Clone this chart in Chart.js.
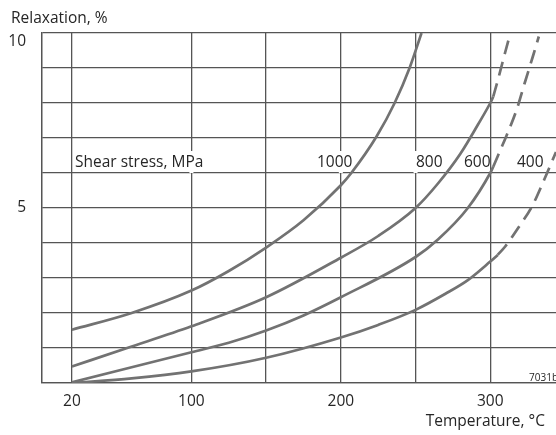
<!DOCTYPE html>
<html>
<head>
<meta charset="utf-8">
<script src="https://cdn.jsdelivr.net/npm/chart.js@4.4.1/dist/chart.umd.min.js"></script>
<style>
  body { margin: 0; background: #fff; }
</style>
</head>
<body>
<canvas id="myChart" width="556" height="435"></canvas>
<script>
// ______________________ data ______________________
// temperature (°C) and relaxation (%) for each shear stress, solid part
let temp1000 = [20, 60, 100, 125, 150, 175, 200, 207, 224, 236, 246, 254];
let relax1000 = [1.52, 2.0, 2.64, 3.2, 3.87, 4.65, 5.65, 6.0, 7.05, 8.0, 9.0, 10.0];

let temp800 = [20, 57, 100, 150, 200, 225, 250, 265, 280, 292, 300, 302];
let relax800 = [0.47, 1.0, 1.62, 2.45, 3.58, 4.2, 5.0, 5.7, 6.55, 7.4, 8.0, 8.18];

let temp600 = [20, 60, 100, 125, 150, 175, 200, 250, 265, 285, 300, 302];
let relax600 = [0.02, 0.45, 0.88, 1.15, 1.5, 1.93, 2.45, 3.6, 4.1, 5.0, 6.0, 6.18];

let temp400 = [20, 60, 100, 150, 200, 225, 250, 270, 285, 300, 305];
let relax400 = [0, 0.13, 0.33, 0.72, 1.3, 1.66, 2.09, 2.55, 2.94, 3.47, 3.66];

// dashed (extrapolated) parts
let temp800d = [302, 306, 310, 313.5];
let relax800d = [8.18, 8.8, 9.45, 10.0];

let temp600d = [302, 305, 311, 317.6, 322.9, 328.3, 332.5];
let relax600d = [6.18, 6.48, 7.08, 7.8, 8.55, 9.3, 9.9];

let temp400d = [305, 310, 319, 328, 335, 342, 344];
let relax400d = [3.66, 3.9, 4.45, 5.05, 5.7, 6.4, 6.6];

let stressLabels = ['1000', '800', '600', '400'];
let xGrid = [0, 20, 100, 150, 200, 250, 300];
let xTickLabels = [20, 100, 200, 300];
let yTickLabels = [5, 10];

function toPoints(xs, ys) {
    let pts = [];
    for (let i = 0; i < xs.length; i++) {
        pts.push({ x: xs[i], y: ys[i] });
    }
    return pts;
}

function curve(xs, ys, dashed) {
    return {
        data: toPoints(xs, ys),
        showLine: true,
        borderColor: '#727272',
        borderWidth: 2.7,
        pointRadius: 0,
        cubicInterpolationMode: 'monotone',
        borderDash: dashed ? [14, 8] : [],
        borderCapStyle: 'butt'
    };
}

const font = '"Open Sans", sans-serif';
const textColor = '#262626';
const gridColor = '#555555';

// labels and the little gaps in the grid behind them
const labelsPlugin = {
    id: 'labels',
    beforeDatasetsDraw(chart) {
        let ctx = chart.ctx;
        let x = chart.scales.x;
        ctx.save();
        ctx.fillStyle = '#fff';
        [100, 200, 250].forEach(v => {
            let px = x.getPixelForValue(v);
            ctx.fillRect(px - 2, 151, 4, 22);
        });
        ctx.restore();
    },
    afterDraw(chart) {
        let ctx = chart.ctx;
        let x = chart.scales.x;
        let y = chart.scales.y;
        ctx.save();
        ctx.fillStyle = textColor;
        ctx.textBaseline = 'middle';
        ctx.font = '15.5px ' + font;

        ctx.textAlign = 'left';
        ctx.fillText('Relaxation, %', 11, 19);

        // y tick labels (10 sits a bit under its line)
        ctx.textAlign = 'right';
        yTickLabels.forEach(v => {
            let py = y.getPixelForValue(v);
            if (v == 10) py += 9;
            ctx.fillText(String(v), 26, py);
        });

        // x tick labels
        ctx.textAlign = 'center';
        xTickLabels.forEach(v => {
            ctx.fillText(String(v), x.getPixelForValue(v), 402);
        });

        ctx.textAlign = 'right';
        ctx.fillText('Temperature, °C', 545, 422);

        // shear stress labels
        ctx.textAlign = 'left';
        ctx.fillText('Shear stress, MPa', 75, 163);
        let lx = [317, 416, 464, 517];
        for (let i = 0; i < stressLabels.length; i++) {
            ctx.fillText(stressLabels[i], lx[i], 163);
        }

        ctx.font = '10px ' + font;
        ctx.textAlign = 'right';
        ctx.textBaseline = 'alphabetic';
        ctx.fillText('7031b', 558, 381);
        ctx.restore();
    }
};

const config = {
    type: 'scatter',
    data: {
        datasets: [
            curve(temp1000, relax1000, false),
            curve(temp800, relax800, false),
            curve(temp600, relax600, false),
            curve(temp400, relax400, false),
            curve(temp800d, relax800d, true),
            curve(temp600d, relax600d, true),
            curve(temp400d, relax400d, true)
        ]
    },
    options: {
        responsive: false,
        animation: false,
        layout: { padding: { top: 33, right: 0, left: 0, bottom: 0 } },
        plugins: {
            legend: { display: false },
            tooltip: { enabled: false }
        },
        scales: {
            x: {
                type: 'linear',
                min: 0,
                max: 344,
                afterBuildTicks: scale => {
                    scale.ticks = xGrid.map(v => ({ value: v }));
                },
                afterFit: scale => { scale.height = 52; },
                ticks: { display: false },
                grid: { color: gridColor, lineWidth: 1.3, drawTicks: false },
                border: { color: gridColor, width: 1.3 }
            },
            y: {
                min: 0,
                max: 10,
                ticks: { display: false, stepSize: 1 },
                afterFit: scale => { scale.width = 42; },
                grid: { color: gridColor, lineWidth: 1.3, drawTicks: false },
                border: { color: gridColor, width: 1.3 }
            }
        }
    },
    plugins: [labelsPlugin]
};

let chart = new Chart(document.getElementById('myChart'), config);
</script>
</body>
</html>
